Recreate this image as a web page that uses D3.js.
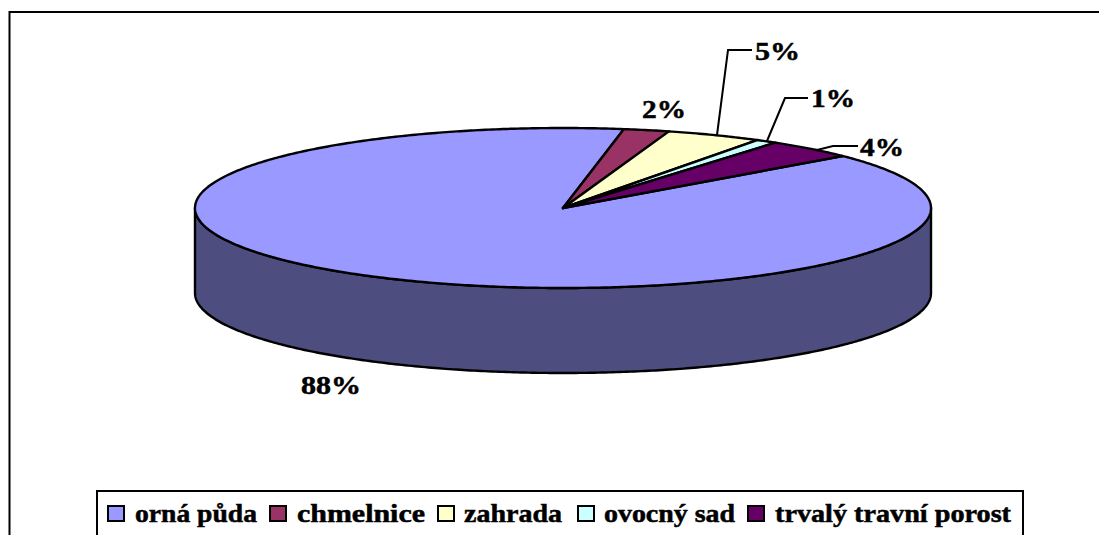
<!DOCTYPE html>
<html><head><meta charset="utf-8">
<script src="https://cdn.jsdelivr.net/npm/d3@7/dist/d3.min.js"></script>
<style>html,body{margin:0;padding:0;background:#fff;overflow:hidden}svg{display:block}
text{font-family:"Liberation Serif","Times New Roman",serif;font-weight:bold;fill:#000;stroke:#000;stroke-width:0.5px}</style>
</head><body><svg id="c" width="1099" height="535"></svg>
<script>
const categories = ["orná půda","chmelnice","zahrada","ovocný sad","trvalý travní porost"];
const shares = [88.9, 2.0, 4.2, 0.95, 3.95];
const percentLabels = ["88%","2%","5%","1%","4%"];
const topColors = ["#9999ff","#993366","#ffffcc","#ccffff","#660066"];
const wallColors = ["#4d4d80","#4d1a33","#808066","#668080","#330033"];

const svg = d3.select("#c");
const W=1099,H=535;
svg.append("rect").attr("x",9.5).attr("y",12).attr("width",1200).attr("height",H).attr("fill","#fff").attr("stroke","#000").attr("stroke-width",2);

const px=d3.scaleLinear().domain([-1,1]).range([195,931]);
const py=d3.scaleLinear().domain([-1,1]).range([128,288]);
const depth=85;
const startDeg=49.5;
const pie=d3.pie().sort(null).value(d=>d).startAngle(startDeg*Math.PI/180).endAngle((startDeg+360)*Math.PI/180);
const arcs=pie(shares);
const pt=a=>[px(Math.sin(a)),py(-Math.cos(a))];
const samples=(a0,a1)=>{const n=Math.max(2,Math.ceil((a1-a0)/0.01));return d3.range(n+1).map(i=>pt(a0+(a1-a0)*i/n));};
const line=d3.line();

const fA=Math.PI/2,fB=3*Math.PI/2;
arcs.forEach((d,i)=>{
  [0,2*Math.PI].forEach(off=>{
    const a0=Math.max(d.startAngle-off,fA),a1=Math.min(d.endAngle-off,fB);
    if(a1<=a0)return;
    const top=samples(a0,a1);
    const bot=top.slice().reverse().map(p=>[p[0],p[1]+depth]);
    svg.append("path").attr("d",line(top.concat(bot))+"Z").attr("fill",wallColors[i]).attr("stroke","#000").attr("stroke-width",2.4).attr("stroke-linejoin","round");
  });
});
arcs.forEach((d,i)=>{
  const c=[px(0),py(0)];
  svg.append("path").attr("d",line([c].concat(samples(d.startAngle,d.endAngle)))+"Z").attr("fill",topColors[i]).attr("stroke","#000").attr("stroke-width",2.4).attr("stroke-linejoin","round");
});

const labelPos=[[301,394,60],[642,118,44],[755,60,45],[811,107,44],[860,156,44]];
percentLabels.forEach((t,i)=>{
  svg.append("text").attr("x",labelPos[i][0]).attr("y",labelPos[i][1]).attr("font-size",26).attr("textLength",labelPos[i][2]).attr("lengthAdjust","spacingAndGlyphs").text(t);
});
const leaders=[[[717,135],[728,50],[752,50]],[[767,141],[785,98],[808,98]],[[817,150],[833,146],[858,146]]];
leaders.forEach(l=>svg.append("path").attr("d",line(l)).attr("fill","none").attr("stroke","#000").attr("stroke-width",2));

svg.append("rect").attr("x",97).attr("y",491).attr("width",926).attr("height",60).attr("fill","#fff").attr("stroke","#000").attr("stroke-width",2);
const swX=[108,270,438,578,748], txX=[135,297,464,604,775], txW=[122,128,98,131,236];
categories.forEach((t,i)=>{
  svg.append("rect").attr("x",swX[i]).attr("y",506).attr("width",16).attr("height",15).attr("fill",topColors[i]).attr("stroke","#000").attr("stroke-width",2);
  svg.append("text").attr("x",txX[i]).attr("y",522).attr("font-size",25).attr("textLength",txW[i]).attr("lengthAdjust","spacingAndGlyphs").text(t);
});
</script></body></html>
